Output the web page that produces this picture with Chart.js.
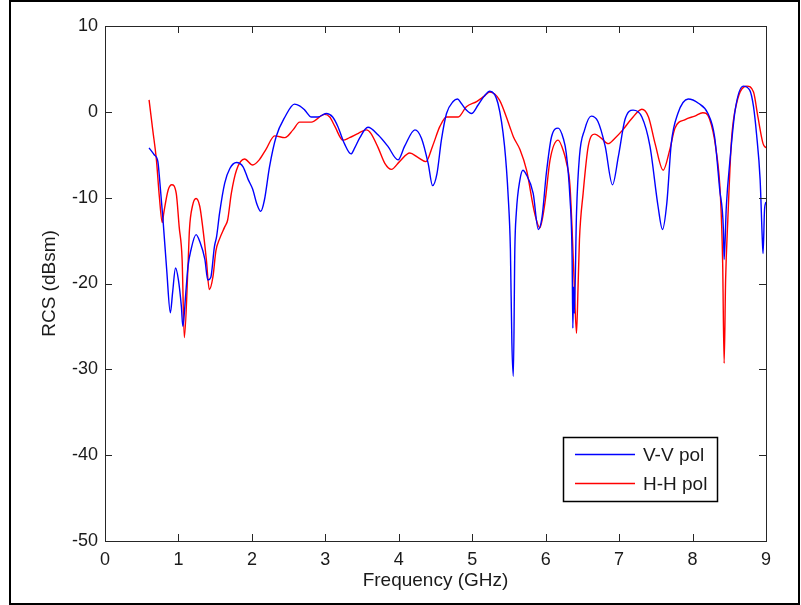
<!DOCTYPE html>
<html>
<head>
<meta charset="utf-8">
<script src="https://cdn.jsdelivr.net/npm/chart.js@4/dist/chart.umd.min.js"></script>
<style>
  html, body { margin: 0; padding: 0; background: #ffffff; }
  #wrap { position: relative; width: 801px; height: 605px; background: #ffffff; }
  #frame { position: absolute; left: 9px; top: 0; width: 791px; height: 605px;
           box-sizing: border-box; border: 2px solid #000; pointer-events: none; }
  canvas { position: absolute; left: 0; top: 0; }
</style>
</head>
<body>
<div id="wrap">
  <canvas id="rcs" width="801" height="605"></canvas>
  <div id="frame"></div>
</div>
<script>
// Monostatic RCS versus frequency for two polarisations
const seriesNames = ['V-V pol', 'H-H pol'];
const seriesColors = ['#0000ff', '#ff0000'];

// V-V polarisation (GHz, dBsm)
const freqVV = [0.60,0.67,0.72,0.74,0.79,0.84,0.89,0.92,0.96,1.00,1.04,1.06,1.10,1.13,1.17,1.24,1.29,1.36,1.40,1.44,
  1.49,1.52,1.56,1.63,1.70,1.79,1.88,1.95,2.01,2.07,2.12,2.17,2.24,2.33,2.45,2.58,2.65,2.72,2.81,2.90,
  3.01,3.10,3.17,3.26,3.35,3.40,3.47,3.58,3.72,3.85,3.99,4.08,4.22,4.31,4.40,4.46,4.52,4.58,4.65,4.74,
  4.80,4.85,4.92,4.99,5.08,5.16,5.24,5.35,5.44,5.49,5.52,5.54,5.56,5.58,5.60,5.65,5.69,5.73,5.83,5.90,
  5.95,6.01,6.08,6.17,6.24,6.28,6.33,6.36,6.37,6.38,6.39,6.42,6.46,6.53,6.62,6.71,6.81,6.91,6.99,7.08,
  7.19,7.31,7.42,7.53,7.59,7.65,7.71,7.80,7.94,8.08,8.21,8.30,8.37,8.42,8.43,8.46,8.51,8.58,8.69,8.78,
  8.83,8.87,8.92,8.95,8.96,8.98,9.00];
const rcsVV = [-4.2,-5.0,-5.8,-7.5,-12.6,-18.4,-23.4,-21.1,-18.2,-19.6,-22.7,-25.0,-21.1,-18.0,-16.1,-14.3,-15.1,-17.2,-19.6,-19.3,
  -15.7,-14.5,-11.8,-8.3,-6.6,-5.9,-6.4,-7.9,-9.0,-10.8,-11.6,-10.3,-6.4,-2.9,-0.6,0.9,0.7,0.2,-0.6,-0.6,
  -0.2,-0.6,-1.7,-3.7,-4.9,-4.2,-3.0,-1.8,-2.7,-4.0,-5.6,-4.0,-2.1,-3.1,-6.0,-8.6,-7.2,-3.3,-0.2,1.2,
  1.5,1.0,0.2,-0.2,0.8,1.8,2.4,1.0,-4.0,-9.9,-16.1,-26.9,-30.8,-16.1,-11.8,-7.9,-6.8,-7.2,-9.5,-13.7,
  -12.3,-7.1,-2.9,-1.9,-3.1,-4.8,-9.9,-16.9,-25.2,-20.4,-23.5,-11.8,-5.2,-2.1,-0.5,-1.1,-4.0,-8.5,-5.2,-0.9,
  0.2,-0.6,-4.0,-11.0,-13.7,-10.6,-3.7,-0.2,1.5,1.0,-0.2,-2.9,-9.1,-13.7,-17.2,-11.0,-5.6,0.2,3.0,2.5,
  0.6,-2.5,-7.9,-14.9,-16.5,-11.4,-10.5];

// H-H polarisation (GHz, dBsm)
const freqHH = [0.60,0.65,0.70,0.74,0.78,0.80,0.86,0.91,0.97,1.01,1.05,1.08,1.13,1.15,1.19,1.24,1.29,1.33,1.38,1.42,
  1.47,1.51,1.56,1.63,1.67,1.72,1.79,1.90,2.01,2.10,2.19,2.31,2.45,2.56,2.65,2.81,2.99,3.06,3.13,3.24,
  3.33,3.45,3.56,3.62,3.72,3.81,3.90,4.01,4.15,4.26,4.37,4.46,4.56,4.65,4.81,4.92,5.06,5.16,5.24,5.37,
  5.51,5.56,5.65,5.74,5.85,5.92,5.99,6.06,6.17,6.25,6.28,6.33,6.36,6.39,6.42,6.44,6.46,6.51,6.58,6.67,
  6.76,6.85,6.94,7.05,7.17,7.31,7.40,7.49,7.60,7.69,7.76,7.90,8.03,8.14,8.23,8.32,8.38,8.41,8.43,8.45,
  8.48,8.53,8.60,8.74,8.83,8.89,8.96,9.00];
const rcsHH = [1.4,-2.1,-5.6,-9.9,-12.9,-11.8,-9.1,-8.5,-9.5,-13.4,-17.2,-26.3,-18.0,-13.7,-11.0,-10.1,-11.0,-13.4,-17.2,-20.7,
  -19.2,-16.2,-14.8,-13.4,-12.6,-9.5,-6.8,-5.5,-6.2,-5.6,-4.4,-2.8,-3.0,-2.1,-1.2,-1.2,-0.3,-0.6,-1.7,-3.3,
  -3.0,-2.5,-2.1,-2.5,-4.2,-6.0,-6.7,-5.8,-4.8,-5.3,-5.8,-4.0,-1.7,-0.6,-0.6,0.6,1.2,1.8,2.3,1.4,
  -1.7,-2.9,-4.4,-6.8,-11.8,-13.5,-10.6,-5.6,-3.3,-4.8,-5.8,-8.5,-13.7,-20.3,-25.8,-20.7,-14.9,-9.5,-4.0,-2.6,
  -3.1,-3.7,-3.1,-2.1,-0.8,0.3,-0.6,-3.7,-6.8,-4.4,-1.9,-0.9,-0.5,-0.1,-0.8,-4.4,-9.9,-17.6,-29.3,-19.6,
  -12.6,-3.3,1.0,3.0,2.3,-0.6,-3.7,-4.2];

const toPoints = (xs, ys) => xs.map((x, i) => ({ x: x, y: ys[i] }));

const FONT = 'Liberation Sans, Arial, Helvetica, sans-serif';
const TEXT_COLOR = '#1a1a1a';
const AXIS_COLOR = '#262626';
const TICK_LEN = 7;

// Boxed axes with inward ticks on all four sides
const boxAxes = {
  id: 'boxAxes',
  afterDatasetsDraw(chart) {
    const { ctx, chartArea: a, scales } = chart;
    ctx.save();
    ctx.strokeStyle = AXIS_COLOR;
    ctx.lineWidth = 1;
    ctx.beginPath();
    scales.x.ticks.forEach(t => {
      const px = Math.round(scales.x.getPixelForValue(t.value)) + 0.5;
      ctx.moveTo(px, a.bottom); ctx.lineTo(px, a.bottom - TICK_LEN);
      ctx.moveTo(px, a.top); ctx.lineTo(px, a.top + TICK_LEN);
    });
    scales.y.ticks.forEach(t => {
      const py = Math.round(scales.y.getPixelForValue(t.value)) + 0.5;
      ctx.moveTo(a.left, py); ctx.lineTo(a.left + TICK_LEN, py);
      ctx.moveTo(a.right, py); ctx.lineTo(a.right - TICK_LEN, py);
    });
    ctx.stroke();
    ctx.strokeRect(Math.round(a.left) + 0.5, Math.round(a.top) + 0.5,
                   Math.round(a.right - a.left), Math.round(a.bottom - a.top));
    ctx.restore();
  }
};

// Legend box in the lower right corner of the axes
const innerLegend = {
  id: 'innerLegend',
  afterDraw(chart) {
    const { ctx, chartArea: a } = chart;
    const bx = a.right - 203, by = a.bottom - 104, bw = 154, bh = 64;
    ctx.save();
    ctx.fillStyle = '#ffffff';
    ctx.fillRect(bx, by, bw, bh);
    ctx.strokeStyle = '#000000';
    ctx.lineWidth = 1.5;
    ctx.strokeRect(bx + 0.5, by + 0.5, bw, bh);
    ctx.font = '19px ' + FONT;
    ctx.textBaseline = 'middle';
    ctx.textAlign = 'left';
    chart.data.datasets.forEach((ds, i) => {
      const ly = by + 17.5 + i * 29;
      ctx.strokeStyle = ds.borderColor;
      ctx.lineWidth = 1.5;
      ctx.beginPath();
      ctx.moveTo(bx + 12, ly); ctx.lineTo(bx + 72, ly);
      ctx.stroke();
      ctx.fillStyle = TEXT_COLOR;
      ctx.fillText(ds.label, bx + 80, ly + 1);
    });
    ctx.restore();
  }
};

new Chart(document.getElementById('rcs'), {
  type: 'line',
  data: {
    datasets: [
      { label: seriesNames[0], data: toPoints(freqVV, rcsVV), borderColor: seriesColors[0],
        borderWidth: 1.4, pointRadius: 0, cubicInterpolationMode: 'monotone', fill: false },
      { label: seriesNames[1], data: toPoints(freqHH, rcsHH), borderColor: seriesColors[1],
        borderWidth: 1.4, pointRadius: 0, cubicInterpolationMode: 'monotone', fill: false }
    ]
  },
  options: {
    responsive: false,
    animation: false,
    devicePixelRatio: 1,
    layout: { padding: { left: 10, top: 26, right: 35, bottom: 10 } },
    plugins: { legend: { display: false }, tooltip: { enabled: false } },
    scales: {
      x: {
        type: 'linear', min: 0, max: 9,
        afterFit(scale) { scale.height = 54; },
        ticks: { stepSize: 1, padding: 8, color: TEXT_COLOR, font: { family: FONT, size: 18 } },
        grid: { display: false, drawTicks: false },
        border: { display: false },
        title: { display: true, text: 'Frequency (GHz)', color: TEXT_COLOR,
                 font: { family: FONT, size: 19 }, padding: { top: 0, bottom: 3 } }
      },
      y: {
        type: 'linear', min: -50, max: 10,
        afterFit(scale) { scale.width = 95; },
        ticks: { stepSize: 10, padding: 7, color: TEXT_COLOR, font: { family: FONT, size: 18 } },
        grid: { display: false, drawTicks: false },
        border: { display: false },
        title: { display: true, text: 'RCS (dBsm)', color: TEXT_COLOR,
                 font: { family: FONT, size: 19 }, padding: { top: 28, bottom: 0 } }
      }
    }
  },
  plugins: [boxAxes, innerLegend]
});
</script>
</body>
</html>
